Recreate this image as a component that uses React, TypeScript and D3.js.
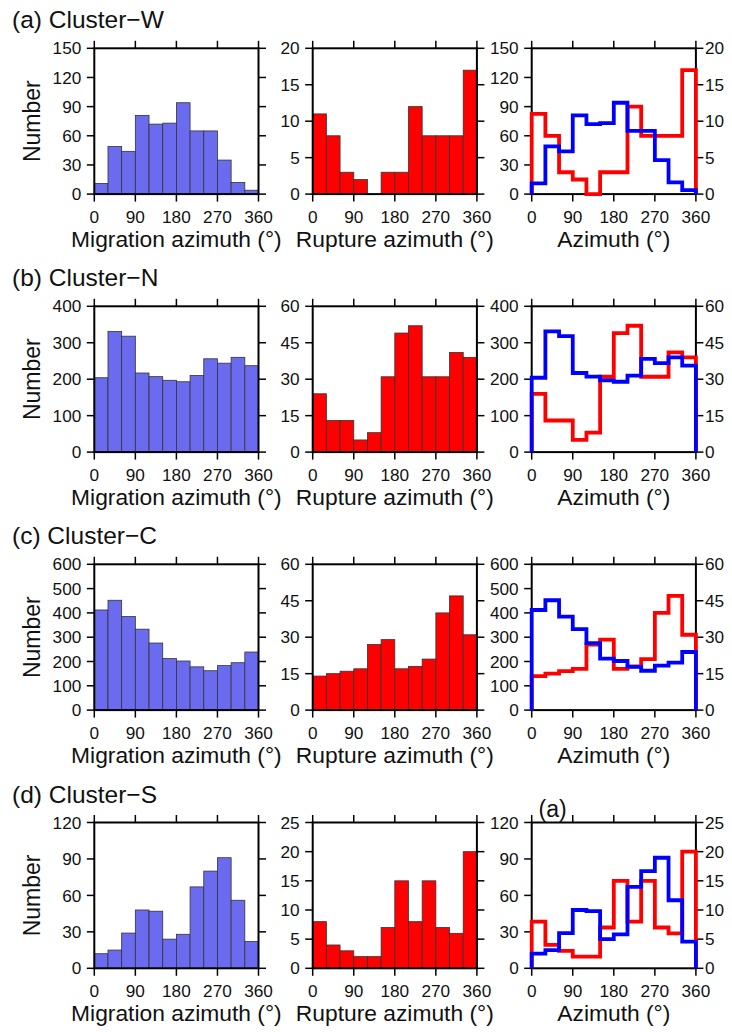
import React from "react";
import * as d3 from "d3";

// ---------- data ----------
const azimuthBins = [0, 30, 60, 90, 120, 150, 180, 210, 240, 270, 300, 330];
const xTicks = [0, 90, 180, 270, 360];

const clusterTitles = ["(a) Cluster−W", "(b) Cluster−N", "(c) Cluster−C", "(d) Cluster−S"];

const migrationW = [11, 49, 44, 81, 72, 73, 94, 65, 65, 35, 12, 4];
const ruptureW = [11, 8, 3, 2, 0, 3, 3, 12, 8, 8, 8, 17];
const migrationN = [204, 331, 318, 217, 207, 197, 193, 210, 256, 244, 260, 237];
const ruptureN = [24, 13, 13, 5, 8, 31, 49, 52, 31, 31, 41, 39];
const migrationC = [412, 452, 385, 333, 276, 212, 202, 178, 162, 183, 195, 239];
const ruptureC = [14, 15, 16, 17, 27, 29, 17, 18, 21, 40, 47, 31];
const migrationS = [12, 15, 29, 48, 47, 24, 28, 67, 80, 91, 56, 22];
const ruptureS = [8, 4, 3, 2, 2, 7, 15, 8, 15, 7, 6, 20];

const migTicksW = [0, 30, 60, 90, 120, 150];
const rupTicksW = [0, 5, 10, 15, 20];
const migTicksN = [0, 100, 200, 300, 400];
const rupTicksN = [0, 15, 30, 45, 60];
const migTicksC = [0, 100, 200, 300, 400, 500, 600];
const rupTicksC = [0, 15, 30, 45, 60];
const migTicksS = [0, 30, 60, 90, 120];
const rupTicksS = [0, 5, 10, 15, 20, 25];

const migrationSeries = [migrationW, migrationN, migrationC, migrationS];
const ruptureSeries = [ruptureW, ruptureN, ruptureC, ruptureS];
const migrationTicks = [migTicksW, migTicksN, migTicksC, migTicksS];
const ruptureTicks = [rupTicksW, rupTicksN, rupTicksC, rupTicksS];

const xTitleMigration = "Migration azimuth (°)";
const xTitleRupture = "Rupture azimuth (°)";
const xTitleBoth = "Azimuth (°)";
const yTitle = "Number";
const strayLabel = "(a)";

// ---------- layout ----------
const W = 732;
const H = 1032;
const colX = [94.3, 312.7, 531.7];
const rowY = [48.3, 306.3, 564.3, 822.5];
const PW = 164.2;
const PH = 145.8;
const TICK = 7.5;
const FONT = "'Liberation Sans', Arial, Helvetica, sans-serif";
const TICK_FS = 17.2;
const TITLE_FS = 22.8;
const BLUE_FILL = "#6b6bf0";
const RED_FILL = "#ff0000";
const BAR_STROKE = "#333";

type Scale = d3.ScaleLinear<number, number>;

function Frame({
  x, y, xs, ls, lticks, lLabels, rs, rticks, rLabels,
}: {
  x: number; y: number; xs: Scale; ls: Scale; lticks: number[]; lLabels: boolean;
  rs: Scale; rticks: number[]; rLabels: boolean;
}) {
  return (
    <g>
      <rect x={x} y={y} width={PW} height={PH} fill="none" stroke="#000" strokeWidth={2} />
      {xTicks.map((t) => (
        <g key={"x" + t}>
          <line x1={xs(t)} x2={xs(t)} y1={y + PH} y2={y + PH + TICK} stroke="#000" strokeWidth={1.5} />
          <line x1={xs(t)} x2={xs(t)} y1={y} y2={y - TICK} stroke="#000" strokeWidth={1.5} />
          <text x={xs(t)} y={y + PH + 28.4} textAnchor="middle" fontSize={TICK_FS} fontFamily={FONT} fill="#111">
            {t}
          </text>
        </g>
      ))}
      {lticks.map((t) => (
        <g key={"l" + t}>
          <line x1={x - TICK} x2={x} y1={ls(t)} y2={ls(t)} stroke="#000" strokeWidth={1.5} />
          {lLabels && (
            <text x={x - 13} y={ls(t)} dy="0.36em" textAnchor="end" fontSize={TICK_FS} fontFamily={FONT} fill="#111">
              {t}
            </text>
          )}
        </g>
      ))}
      {rticks.map((t) => (
        <g key={"r" + t}>
          <line x1={x + PW} x2={x + PW + TICK} y1={rs(t)} y2={rs(t)} stroke="#000" strokeWidth={1.5} />
          {rLabels && (
            <text x={x + PW + 9} y={rs(t)} dy="0.36em" textAnchor="start" fontSize={TICK_FS} fontFamily={FONT} fill="#111">
              {t}
            </text>
          )}
        </g>
      ))}
    </g>
  );
}

function Bars({ xs, ys, values, fill }: { xs: Scale; ys: Scale; values: number[]; fill: string }) {
  return (
    <g>
      {values.map((v, i) => (
        <rect
          key={i}
          x={xs(azimuthBins[i])}
          y={ys(v)}
          width={xs(azimuthBins[i] + 30) - xs(azimuthBins[i])}
          height={ys(0) - ys(v)}
          fill={fill}
          stroke={BAR_STROKE}
          strokeWidth={0.8}
        />
      ))}
    </g>
  );
}

function stepPath(xs: Scale, ys: Scale, values: number[]): string {
  const pts: [number, number][] = [[0, 0]];
  values.forEach((v, i) => pts.push([azimuthBins[i], v]));
  pts.push([360, values[values.length - 1]]);
  pts.push([360, 0]);
  const line = d3
    .line<[number, number]>()
    .x((d) => xs(d[0]))
    .y((d) => ys(d[1]))
    .curve(d3.curveStepAfter);
  return line(pts) || "";
}

function Row({ r }: { r: number }) {
  const top = rowY[r];
  const mig = migrationSeries[r];
  const rup = ruptureSeries[r];
  const mt = migrationTicks[r];
  const rt = ruptureTicks[r];
  const mMax = mt[mt.length - 1];
  const rMax = rt[rt.length - 1];
  const xsList = colX.map((cx) => d3.scaleLinear().domain([0, 360]).range([cx, cx + PW]));
  const ysM = d3.scaleLinear().domain([0, mMax]).range([top + PH, top]);
  const ysR = d3.scaleLinear().domain([0, rMax]).range([top + PH, top]);
  const titleY = top + PH + 53;
  return (
    <g>
      <text x={12} y={top - 20} fontSize={24.5} fontFamily={FONT} fill="#111">
        {clusterTitles[r]}
      </text>
      <text
        transform={`translate(40,${top + PH / 2}) rotate(-90)`}
        textAnchor="middle"
        fontSize={23}
        fontFamily={FONT}
        fill="#111"
      >
        {yTitle}
      </text>
      {/* panel 1: migration */}
      <Bars xs={xsList[0]} ys={ysM} values={mig} fill={BLUE_FILL} />
      <Frame x={colX[0]} y={top} xs={xsList[0]} ls={ysM} lticks={mt} lLabels={true} rs={ysM} rticks={mt} rLabels={false} />
      <text x={colX[0] + PW / 2} y={titleY} textAnchor="middle" fontSize={TITLE_FS} fontFamily={FONT} fill="#111">
        {xTitleMigration}
      </text>
      {/* panel 2: rupture */}
      <Bars xs={xsList[1]} ys={ysR} values={rup} fill={RED_FILL} />
      <Frame x={colX[1]} y={top} xs={xsList[1]} ls={ysR} lticks={rt} lLabels={true} rs={ysR} rticks={rt} rLabels={false} />
      <text x={colX[1] + PW / 2} y={titleY} textAnchor="middle" fontSize={TITLE_FS} fontFamily={FONT} fill="#111">
        {xTitleRupture}
      </text>
      {/* panel 3: both */}
      <Frame x={colX[2]} y={top} xs={xsList[2]} ls={ysM} lticks={mt} lLabels={true} rs={ysR} rticks={rt} rLabels={true} />
      <path d={stepPath(xsList[2], ysR, rup)} fill="none" stroke="#ff0000" strokeWidth={3.8} strokeLinejoin="miter" />
      <path d={stepPath(xsList[2], ysM, mig)} fill="none" stroke="#0000ff" strokeWidth={3.8} strokeLinejoin="miter" />
      <text x={colX[2] + PW / 2} y={titleY} textAnchor="middle" fontSize={TITLE_FS} fontFamily={FONT} fill="#111">
        {xTitleBoth}
      </text>
    </g>
  );
}

export default function App() {
  return (
    <svg
      width={W}
      height={H}
      viewBox={`0 0 ${W} ${H}`}
      style={{ position: "absolute", left: 0, top: 0, background: "#fff" }}
    >
      <rect x={0} y={0} width={W} height={H} fill="#fff" />
      {clusterTitles.map((_, r) => (
        <Row key={r} r={r} />
      ))}
      <text x={538.5} y={817} fontSize={23} fontFamily={FONT} fill="#111">
        {strayLabel}
      </text>
    </svg>
  );
}
